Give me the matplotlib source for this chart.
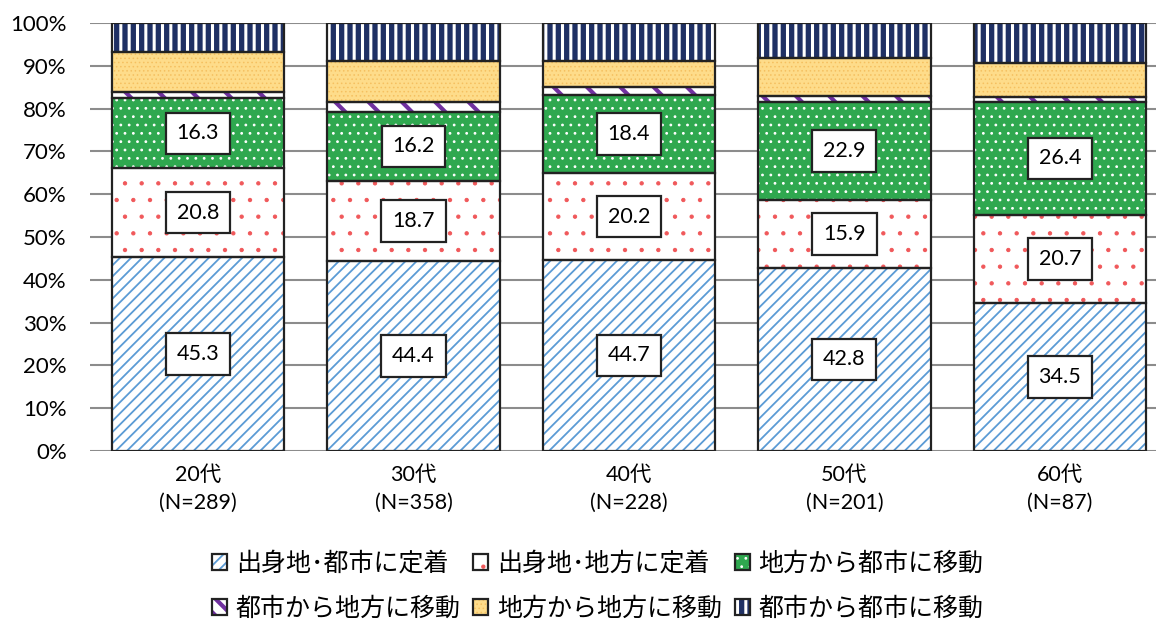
import numpy as np
import matplotlib.pyplot as plt
from matplotlib.patches import Rectangle
from matplotlib.ticker import FuncFormatter

# 年代別の移動パターン (%)
ages = ['20代\n(N=289)', '30代\n(N=358)', '40代\n(N=228)', '50代\n(N=201)', '60代\n(N=87)']
settle_city = [45.3, 44.4, 44.7, 42.8, 34.5]
settle_local = [20.8, 18.7, 20.2, 15.9, 20.7]
local_to_city = [16.3, 16.2, 18.4, 22.9, 26.4]
city_to_local = [1.4, 2.2, 1.7, 1.4, 1.2]
local_to_local = [9.5, 9.7, 6.2, 8.9, 7.9]
city_to_city = [6.7, 8.8, 8.8, 8.1, 9.3]

series_names = ['出身地･都市に定着', '出身地･地方に定着', '地方から都市に移動',
                '都市から地方に移動', '地方から地方に移動', '都市から都市に移動']
series = [settle_city, settle_local, local_to_city, city_to_local, local_to_local, city_to_city]

# (面の色, ハッチ, ハッチの色, ハッチ線幅)
styles = [
    ('white', '///', '#5b9bd5', 1.3),
    ('white', '.', '#f0585a', 0.7),
    ('#2fa84f', '..', 'white', 0.8),
    ('white', '\\', '#7030a0', 3.0),
    ('#fedc8a', '....', '#f5c060', 0.6),
    ('#1f3064', '||', 'white', 2.2),
]


class OverlayHandler:
    # ハッチ付きの面と黒枠を重ねて凡例に描く
    def legend_artist(self, legend, orig_handle, fontsize, handlebox):
        x0, y0 = -handlebox.xdescent, -handlebox.ydescent
        w, h = handlebox.width, handlebox.height
        r = None
        for src in orig_handle:
            r = Rectangle((x0, y0), w, h)
            r.update_from(src)
            if hasattr(src, 'get_hatch_linewidth'):
                r.set_hatch_linewidth(src.get_hatch_linewidth())
            if src.get_hatch() == '\\':
                # 凡例の小さな四角でも斜線が見えるように密にする
                r.set_hatch('\\\\')
            r.set_clip_on(False)
            r.set_clip_path(None)
            r.set_clip_box(None)
            r.set_transform(handlebox.get_transform())
            handlebox.add_artist(r)
        return r


plt.rcParams['font.family'] = ['Lato', 'Noto Sans CJK JP']

fig = plt.figure(figsize=(11.56, 6.22), dpi=100)
ax = fig.add_axes([0.0781, 0.2749, 0.932, 0.688])

x = np.arange(len(ages))
bottom = np.zeros(len(ages))
handles = []
for vals, (fc, hatch, hc, hlw) in zip(series, styles):
    vals = np.array(vals)
    plt.rcParams['hatch.linewidth'] = hlw
    hb = ax.bar(x, vals, 0.8, bottom=bottom, color=fc, hatch=hatch,
                edgecolor=hc, linewidth=0, zorder=2)
    for p in hb:
        if hasattr(p, 'set_hatch_linewidth'):
            p.set_hatch_linewidth(hlw)
    ob = ax.bar(x, vals, 0.8, bottom=bottom, fill=False,
                edgecolor='#222222', linewidth=1.6, zorder=3)
    handles.append((hb[0], ob[0]))
    bottom += vals

# 値ラベル (下3系列)
bottom = np.zeros(len(ages))
for vals in series[:3]:
    vals = np.array(vals)
    for xi, v, b in zip(x, vals, bottom):
        ax.text(xi, b + v / 2, f'{v:.1f}', ha='center', va='center', fontsize=15.5,
                zorder=5, bbox=dict(boxstyle='square,pad=0.5', fc='white',
                                    ec='#222222', lw=1.6))
    bottom += vals

ax.set_xlim(-0.5, 4.5)
ax.set_ylim(0, 100)
ax.set_yticks(np.arange(0, 101, 10))
ax.yaxis.set_major_formatter(FuncFormatter(lambda v, p: f'{v:.0f}%'))
ax.set_xticks(x)
ax.set_xticklabels(ages, fontsize=15.5, linespacing=1.5)
ax.tick_params(axis='y', labelsize=16, length=0, pad=17)
ax.tick_params(axis='x', length=0, pad=10)
ax.grid(axis='y', color='#8c8c8c', linewidth=1.5, zorder=0)
ax.set_axisbelow(True)
for s in ax.spines.values():
    s.set_visible(False)

order = [0, 3, 1, 4, 2, 5]
fig.legend([handles[i] for i in order], [series_names[i] for i in order],
           handler_map={tuple: OverlayHandler()},
           loc='center', bbox_to_anchor=(0.517, 0.059), ncol=3, frameon=False,
           fontsize=18, handlelength=0.6, handleheight=0.6, handletextpad=0.35,
           columnspacing=0.5, labelspacing=0.85)

plt.savefig('out.png', dpi=100)
